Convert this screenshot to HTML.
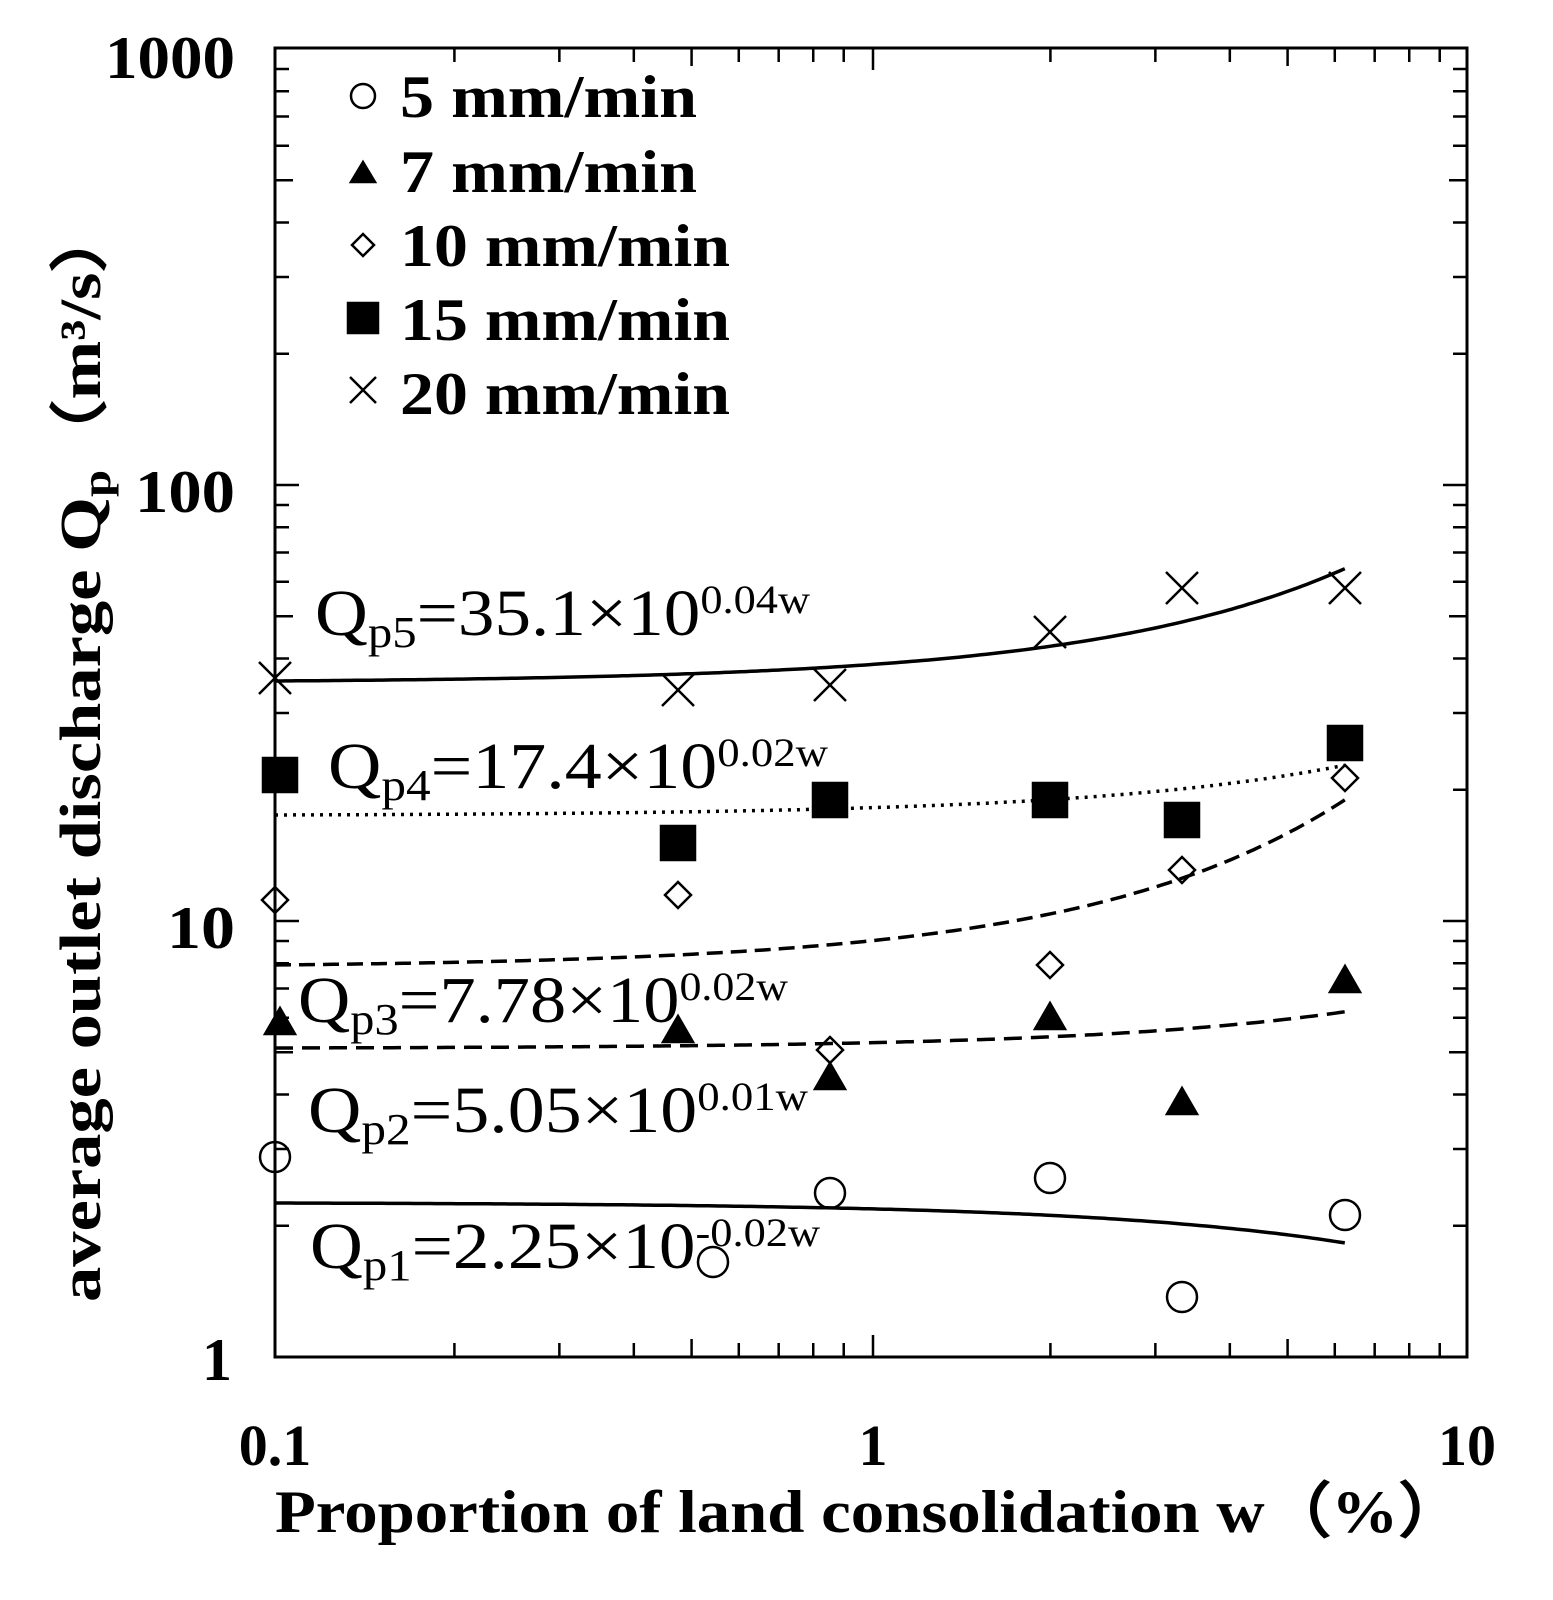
<!DOCTYPE html><html><head><style>body{margin:0;background:#fff}svg{display:block}</style></head><body>
<svg id="s" width="1553" height="1600" xmlns="http://www.w3.org/2000/svg" font-family="Liberation Serif, serif">
<rect x="275" y="48" width="1192" height="1309" fill="none" stroke="#000" stroke-width="3"/>
<g id="ticks" stroke="#000" stroke-width="2.5"></g>
<g font-weight="bold" font-size="60" text-anchor="end">
<text x="235" y="78" textLength="130" lengthAdjust="spacingAndGlyphs">1000</text><text x="235" y="512" textLength="100" lengthAdjust="spacingAndGlyphs">100</text><text x="235" y="948" textLength="68" lengthAdjust="spacingAndGlyphs">10</text><text x="232" y="1380">1</text>
</g>
<g font-weight="bold" font-size="58" text-anchor="middle">
<text x="275" y="1465">0.1</text><text x="873" y="1465">1</text><text x="1467" y="1465">10</text>
</g>
<text x="275" y="1532" font-weight="bold" font-size="60" textLength="1190" lengthAdjust="spacingAndGlyphs">Proportion of land consolidation  w（%）</text>
<text transform="translate(100,1302) rotate(-90)" font-weight="bold" font-size="58" textLength="1100" lengthAdjust="spacingAndGlyphs">average outlet discharge  Q<tspan font-size="40" dy="10">p</tspan><tspan dy="-10">（m³/s）</tspan></text>
<g font-weight="bold" font-size="60">
<text x="400" y="117" textLength="297" lengthAdjust="spacingAndGlyphs">5 mm/min</text><text x="400" y="192" textLength="297" lengthAdjust="spacingAndGlyphs">7 mm/min</text><text x="400" y="266" textLength="330" lengthAdjust="spacingAndGlyphs">10 mm/min</text><text x="400" y="340" textLength="330" lengthAdjust="spacingAndGlyphs">15 mm/min</text><text x="400" y="414" textLength="330" lengthAdjust="spacingAndGlyphs">20 mm/min</text>
</g>
<g id="pts" fill="none" stroke="#000" stroke-width="2.5"></g>
<g id="curves" fill="none" stroke="#000" stroke-width="3.5"></g>
<g font-size="66">
<text x="315" y="635" textLength="495" lengthAdjust="spacingAndGlyphs">Q<tspan font-size="44" dy="12">p5</tspan><tspan dy="-12">=35.1×10</tspan><tspan font-size="40" dy="-22">0.04w</tspan></text>
<text x="328" y="788" textLength="500" lengthAdjust="spacingAndGlyphs">Q<tspan font-size="44" dy="12">p4</tspan><tspan dy="-12">=17.4×10</tspan><tspan font-size="40" dy="-22">0.02w</tspan></text>
<text x="298" y="1022" textLength="490" lengthAdjust="spacingAndGlyphs">Q<tspan font-size="44" dy="12">p3</tspan><tspan dy="-12">=7.78×10</tspan><tspan font-size="40" dy="-22">0.02w</tspan></text>
<text x="308" y="1132" textLength="500" lengthAdjust="spacingAndGlyphs">Q<tspan font-size="44" dy="12">p2</tspan><tspan dy="-12">=5.05×10</tspan><tspan font-size="40" dy="-22">0.01w</tspan></text>
<text x="310" y="1268" textLength="510" lengthAdjust="spacingAndGlyphs">Q<tspan font-size="44" dy="12">p1</tspan><tspan dy="-12">=2.25×10</tspan><tspan font-size="40" dy="-22">-0.02w</tspan></text>
</g>
</svg>
<script>
var NS="http://www.w3.org/2000/svg";
function el(p,t,a){var e=document.createElementNS(NS,t);for(var k in a)e.setAttribute(k,a[k]);document.getElementById(p).appendChild(e);return e;}
var X=w=>275+596*Math.log10(w/0.1), Y=v=>1357-436*Math.log10(v);
var d="";
for(var dec=0;dec<3;dec++)for(var m=2;m<10;m++){var y=Y(Math.pow(10,dec)*m);var L=(m==5)?18:14;d+="M275 "+y+"h"+L+"M1467 "+y+"h-"+L;}
for(var dec=-1;dec<1;dec++)for(var m=2;m<10;m++){var x=X(Math.pow(10,dec)*m);var L=(m==5)?18:14;d+="M"+x+" 1357v-"+L+"M"+x+" 48v"+L;}
d+="M873 1357v-22M873 48v22";
d+="M275 485h24M1467 485h-24M275 921h24M1467 921h-24";
el("ticks","path",{d:d,fill:"none"});
el("pts","circle",{cx:363,cy:96,r:12});
el("pts","path",{d:"M351 182h24l-12-20z",fill:"#000"});
el("pts","path",{d:"M363 234l11 11-11 11-11-11z"});
el("pts","rect",{x:348,y:303,width:30,height:30,fill:"#000"});
el("pts","path",{d:"M350 377l26 26M376 377l-26 26"});
function circ(x,y){el("pts","circle",{cx:x,cy:y,r:15});}
function tri(x,y){el("pts","path",{d:"M"+(x-15)+" "+(y+12)+"h30l-15-26z",fill:"#000"});}
function dia(x,y){el("pts","path",{d:"M"+x+" "+(y-13)+"l13 13-13 13-13-13z"});}
function sq(x,y){el("pts","rect",{x:x-17,y:y-17,width:34,height:34,fill:"#000"});}
function cr(x,y){el("pts","path",{d:"M"+(x-16)+" "+(y-16)+"l32 32M"+(x+16)+" "+(y-16)+"l-32 32"});}
[[275,1157],[713,1262],[830,1193],[1050,1178],[1182,1297],[1345,1215]].forEach(p=>circ(...p));
[[280,1022],[678,1030],[830,1077],[1050,1017],[1182,1102],[1345,980]].forEach(p=>tri(...p));
[[275,900],[678,895],[830,1050],[1050,965],[1182,870],[1345,778]].forEach(p=>dia(...p));
[[280,775],[678,843],[830,800],[1050,800],[1182,820],[1345,743]].forEach(p=>sq(...p));
[[275,678],[678,690],[830,685],[1050,632],[1182,588],[1345,588]].forEach(p=>cr(...p));
function curve(y0,k,dash){var s="";for(var i=0;i<=200;i++){var lw=-1+i/200*1.795;var w=Math.pow(10,lw);var x=X(w);var y=y0+k*(w-0.1);s+=(i?"L":"M")+x.toFixed(1)+" "+y.toFixed(1);}
var a={d:s};if(dash)a["stroke-dasharray"]=dash;el("curves","path",a);}
curve(681,-18.3);curve(815,-8.1,"3 6");curve(965,-26.9,"16 8");curve(1048,-5.9,"18 9");curve(1203,6.5);
</script>
</body></html>
